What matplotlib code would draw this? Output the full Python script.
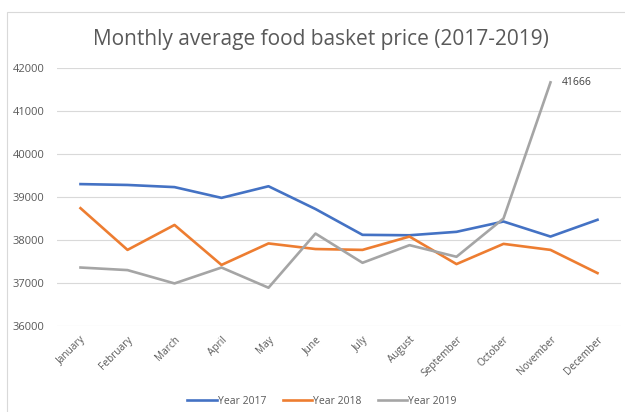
import numpy as np
import matplotlib.pyplot as plt
from matplotlib.patches import Rectangle

months = ['January', 'February', 'March', 'April', 'May', 'June', 'July',
          'August', 'September', 'October', 'November', 'December']
year_2017 = [39300, 39280, 39230, 38980, 39250, 38720, 38120, 38110, 38190,
             38430, 38080, 38470]
year_2018 = [38740, 37770, 38350, 37420, 37920, 37790, 37770, 38080, 37440,
             37910, 37770, 37230]
year_2019 = [37360, 37300, 36990, 37360, 36890, 38150, 37470, 37880, 37610,
             38500, 41666, np.nan]
yticks = [36000, 37000, 38000, 39000, 40000, 41000, 42000]

plt.rcParams['font.family'] = ['Open Sans', 'DejaVu Sans']

fig = plt.figure(figsize=(6.25, 4.12), dpi=100)
# light chart frame like the excel chart area
fig.patches.append(Rectangle((7 / 625, -0.01), 1.0, 1 - 12 / 412 + 0.01,
                             transform=fig.transFigure, fill=False,
                             edgecolor='#d9d9d9', linewidth=0.8))
ax = fig.add_axes([57 / 625, 1 - 326 / 412, 564 / 625, 258 / 412])

x = np.arange(len(months))
ax.plot(x, year_2017, color='#4472C4', lw=1.9, label='Year 2017')
ax.plot(x, year_2018, color='#ED7D31', lw=1.9, label='Year 2018')
ax.plot(x, year_2019, color='#A5A5A5', lw=1.9, label='Year 2019')

ax.annotate(str(int(year_2019[10])), (10, year_2019[10]), xytext=(8, 0),
            textcoords='offset points', fontsize=7.5, color='#404040',
            va='center', ha='left')

ax.set_xlim(-0.5, 11.5)
ax.set_ylim(36000, 42000)
ax.set_yticks(yticks)
ax.set_yticklabels([str(v) for v in yticks], fontsize=8, color='#595959')
ax.set_xticks(x)
ax.set_xticklabels(months, rotation=45, ha='right', va='top',
                   rotation_mode='anchor', fontsize=7.3, color='#595959')
ax.tick_params(axis='both', length=0)
ax.tick_params(axis='y', pad=9)
ax.tick_params(axis='x', pad=6)
ax.grid(axis='y', color='#d9d9d9', lw=0.8)
ax.set_axisbelow(True)
for s in ax.spines.values():
    s.set_visible(False)

fig.text(321 / 625, 1 - 39 / 412, 'Monthly average food basket price (2017-2019)',
         ha='center', va='center', fontsize=15, color='#595959')

fig.legend(loc='center', bbox_to_anchor=(322 / 625, 1 - 401 / 412), ncol=3,
           frameon=False, fontsize=7.5, handlelength=2.8, handletextpad=0.1,
           columnspacing=1.6, labelcolor='#595959')

fig.savefig('out.png', dpi=100)
